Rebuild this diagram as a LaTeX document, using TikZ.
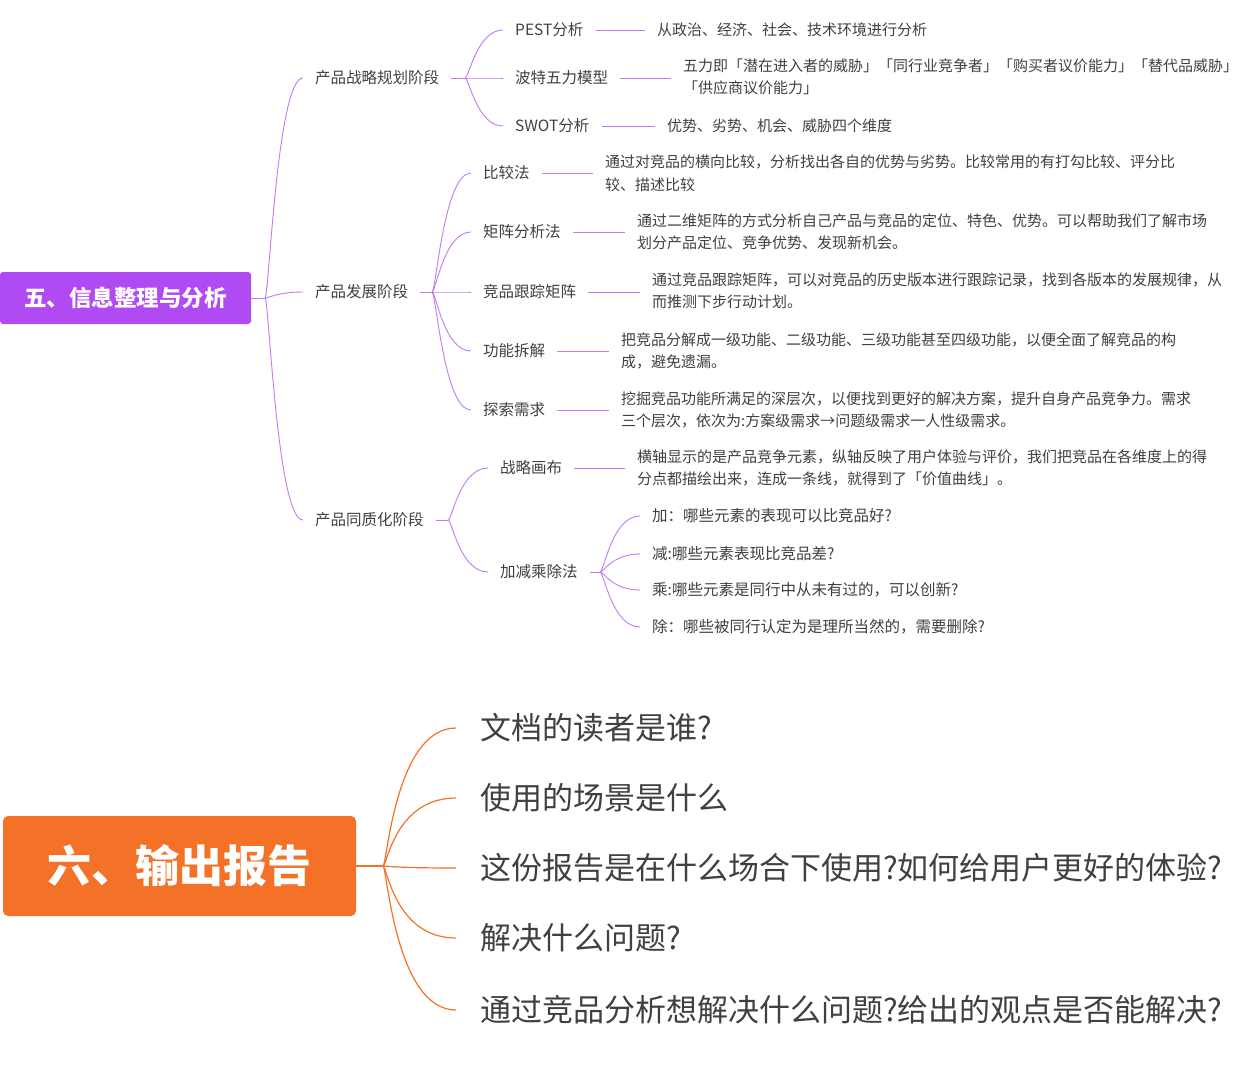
\documentclass[tikz,border=0pt]{standalone}
\usepackage{fontspec}
\setmainfont{Noto Sans CJK SC}
\usetikzlibrary{calc}
\definecolor{pur}{HTML}{B04AF2}
\definecolor{purl}{HTML}{C27AF0}
\definecolor{org}{HTML}{F47128}
\definecolor{txt}{HTML}{404040}
\tikzset{
 pl/.style={draw=purl,line width=0.9pt},
 ol/.style={draw=org,line width=1.2pt},
 it/.style={anchor=west,inner xsep=12pt,inner ysep=2pt,text=txt,font=\fontsize{15.5}{22}\selectfont},
 ds/.style={anchor=west,inner xsep=12pt,inner ysep=2pt,text=txt,align=left,font=\fontsize{15}{22.5}\selectfont},
 big/.style={anchor=west,inner xsep=24pt,inner ysep=2pt,text=txt,font=\fontsize{31}{36}\selectfont},
}
\newcommand{\crv}[3][pl]{\draw[#1] (#2) .. controls +(4,0) and ($(#2 |- #3.west)+(12,0)$) .. (#3.west);}
\begin{document}
\begin{tikzpicture}[x=1pt,y=-1pt]
\useasboundingbox (0,0) rectangle (1256,1080);
% root 5
\node[fill=pur,rounded corners=3pt,minimum width=251,minimum height=52,text=white,font=\fontsize{22.5}{26}\selectfont\bfseries] (r5) at (125.5,298) {五、信息整理与分析};
\coordinate (f5) at (265,298);
\draw[pl] (r5.east) -- (f5);
\node[it] (a1) at (303,78) {产品战略规划阶段};
\node[it] (a2) at (303,292) {产品发展阶段};
\node[it] (a3) at (303,520) {产品同质化阶段};
\foreach \n in {a1,a2,a3} {\crv{f5}{\n}}
% stage 1
\coordinate (fa1) at (465,78);
\draw[pl] (a1.east) -- (fa1);
\node[it] (b1) at (503,30) {PEST分析};
\node[it] (b2) at (503,78) {波特五力模型};
\node[it] (b3) at (503,126) {SWOT分析};
\foreach \n in {b1,b2,b3} {\crv{fa1}{\n}}
\node[ds] (d1) at (645,30) {从政治、经济、社会、技术环境进行分析};
\node[ds] (d2) at (671,77) {五力即「潜在进入者的威胁」「同行业竞争者」「购买者议价能力」「替代品威胁」\\「供应商议价能力」};
\node[ds] (d3) at (655,126) {优势、劣势、机会、威胁四个维度};
\draw[pl] (b1.east) -- (d1.west);
\draw[pl] (b2.east) -- (b2.east -| d2.west);
\draw[pl] (b3.east) -- (d3.west);
% stage 2
\coordinate (fa2) at (432,292);
\draw[pl] (a2.east) -- (fa2);
\node[it] (c1) at (471,173) {比较法};
\node[it] (c2) at (471,232) {矩阵分析法};
\node[it] (c3) at (471,292) {竞品跟踪矩阵};
\node[it] (c4) at (471,351) {功能拆解};
\node[it] (c5) at (471,410) {探索需求};
\foreach \n in {c1,c2,c3,c4,c5} {\crv{fa2}{\n}}
\node[ds] (e1) at (593,173) {通过对竞品的横向比较，分析找出各自的优势与劣势。比较常用的有打勾比较、评分比\\较、描述比较};
\node[ds] (e2) at (625,232) {通过二维矩阵的方式分析自己产品与竞品的定位、特色、优势。可以帮助我们了解市场\\划分产品定位、竞争优势、发现新机会。};
\node[ds] (e3) at (640,291) {通过竞品跟踪矩阵，可以对竞品的历史版本进行跟踪记录，找到各版本的发展规律，从\\而推测下步行动计划。};
\node[ds] (e4) at (609,351) {把竞品分解成一级功能、二级功能、三级功能甚至四级功能，以便全面了解竞品的构\\成，避免遗漏。};
\node[ds] (e5) at (609,410) {挖掘竞品功能所满足的深层次，以便找到更好的解决方案，提升自身产品竞争力。需求\\三个层次，依次为:方案级需求→问题级需求一人性级需求。};
\foreach \a/\b in {c1/e1,c2/e2,c3/e3,c4/e4,c5/e5} {\draw[pl] (\a.east) -- (\a.east -| \b.west);}
% stage 3
\coordinate (fa3) at (448,520);
\draw[pl] (a3.east) -- (fa3);
\node[it] (g1) at (488,468) {战略画布};
\node[it] (g2) at (488,572) {加减乘除法};
\foreach \n in {g1,g2} {\crv{fa3}{\n}}
\node[ds] (h1) at (625,468) {横轴显示的是产品竞争元素，纵轴反映了用户体验与评价，我们把竞品在各维度上的得\\分点都描绘出来，连成一条线，就得到了「价值曲线」。};
\draw[pl] (g1.east) -- (g1.east -| h1.west);
\coordinate (fg2) at (600,572);
\draw[pl] (g2.east) -- (fg2);
\node[it] (k1) at (640,516) {加：哪些元素的表现可以比竞品好?};
\node[it] (k2) at (640,554) {减:哪些元素表现比竞品差?};
\node[it] (k3) at (640,590) {乘:哪些元素是同行中从未有过的，可以创新?};
\node[it] (k4) at (640,627) {除：哪些被同行认定为是理所当然的，需要删除?};
\foreach \n in {k1,k2,k3,k4} {\crv{fg2}{\n}}
% section 6
\node[fill=org,rounded corners=5pt,minimum width=353,minimum height=100,text=white,font=\fontsize{44}{50}\selectfont\bfseries] (r6) at (179.5,866) {六、输出报告};
\coordinate (f6) at (383,866);
\draw[ol] (r6.east) -- (f6);
\node[big] (m1) at (456,728) {文档的读者是谁?};
\node[big] (m2) at (456,798) {使用的场景是什么};
\node[big] (m3) at (456,868) {这份报告是在什么场合下使用?如何给用户更好的体验?};
\node[big] (m4) at (456,938) {解决什么问题?};
\node[big] (m5) at (456,1010) {通过竞品分析想解决什么问题?给出的观点是否能解决?};
\foreach \n in {m1,m2,m3,m4,m5} {\crv[ol]{f6}{\n}}
\end{tikzpicture}
\end{document}
